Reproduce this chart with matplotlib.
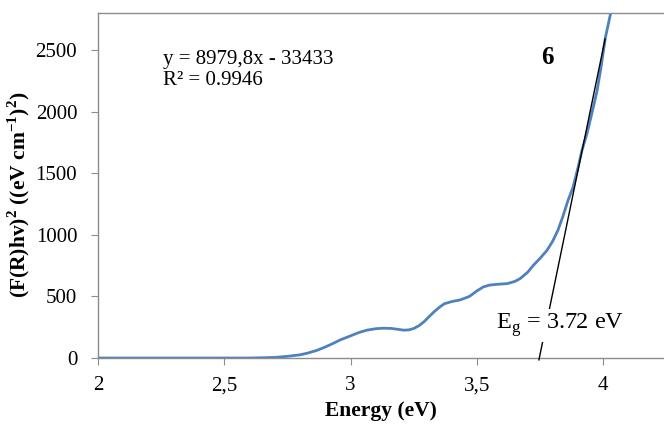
"""
    Tauc plot (F(R)hv)^2 vs energy, sample 6
"""

import matplotlib
matplotlib.use("Agg")
import matplotlib.pyplot as plt
from matplotlib.ticker import FuncFormatter

# data
energy = [2.0, 2.3, 2.6, 2.65, 2.7, 2.73, 2.76, 2.80, 2.83, 2.866, 2.90, 2.93,
          2.96, 3.0, 3.03, 3.064, 3.10, 3.13, 3.16, 3.19, 3.21, 3.23, 3.25,
          3.27, 3.29, 3.31, 3.33, 3.35, 3.37, 3.40, 3.434, 3.47, 3.50, 3.525,
          3.55, 3.58, 3.62, 3.65, 3.671, 3.70, 3.723, 3.75, 3.777, 3.80, 3.82,
          3.84, 3.86, 3.88, 3.90, 3.915, 3.935, 3.955, 3.975, 3.99, 4.008,
          4.028, 4.04]
tauc = [0, 0, 0, 2, 5, 10, 16, 26, 40, 62, 90, 118,
        148, 180, 205, 226, 238, 242, 240, 232, 226, 228, 240,
        262, 294, 335, 375, 410, 440, 458, 472, 500, 545, 577,
        592, 598, 604, 622, 645, 695, 752, 810, 874, 950, 1036,
        1150, 1278, 1386, 1548, 1683, 1820, 1990, 2168, 2350, 2600,
        2790, 2900]

# linear fit line as drawn in the figure
fit_x = [3.745, 4.007]
fit_y = [-15, 2590]
eq_text = 'y = 8979,8x - 33433\nR² = 0.9946'
eg = 3.72

x_ticks = [2, 2.5, 3, 3.5, 4]
y_ticks = [0, 500, 1000, 1500, 2000, 2500]

plt.rcParams['font.family'] = ['Liberation Serif', 'DejaVu Serif']
plt.rcParams['mathtext.fontset'] = 'custom'
plt.rcParams['mathtext.rm'] = 'Liberation Serif'
plt.rcParams['mathtext.bf'] = 'Liberation Serif:bold'

fig = plt.figure(figsize=(6.64, 4.26), dpi=100)
ax = fig.add_axes([0.1476, 0.1596, 0.8524, 0.8099])

ax.plot(energy, tauc, color='#4F81BD', lw=2.0, zorder=2)
ax.plot(fit_x, fit_y, color='black', lw=1.0, zorder=3, clip_on=False)

ax.set_xlim(2, 4.24)
ax.set_ylim(0, 2800)
ax.set_xticks(x_ticks)
ax.set_yticks(y_ticks)
ax.xaxis.set_major_formatter(FuncFormatter(lambda v, p: f"{v:g}".replace('.', ',')))

gray = '#8c8c8c'
for side in ['left', 'bottom', 'top']:
    ax.spines[side].set_color(gray)
    ax.spines[side].set_linewidth(1.0)
ax.spines['right'].set_visible(False)
ax.tick_params(direction='out', length=5, color=gray, labelsize=15)
ax.tick_params(axis='x', pad=8)
ax.tick_params(axis='y', pad=10)

ax.set_xlabel('Energy (eV)', fontsize=15.5, fontweight='bold', labelpad=4)
ax.set_ylabel(r'(F(R)hv)$^\mathbf{2}$ ((eV cm$^{\mathbf{-1}}$)$^\mathbf{2}$)',
              fontsize=15.5, fontweight='bold')
ax.yaxis.set_label_coords(-0.117, 0.472)

ax.text(2.257, 2335, eq_text, fontsize=15, va='center', ha='left',
        linespacing=1.15)
ax.text(3.78, 2440, '6', fontsize=18, fontweight='bold', ha='center', va='center')
ax.text(3.83, 267, r'E$_\mathregular{g}$ = %.2f eV' % eg, fontsize=17.5,
        ha='center', va='center', zorder=4,
        bbox=dict(facecolor='white', edgecolor='none', pad=2))

fig.savefig('out.png', dpi=100)
